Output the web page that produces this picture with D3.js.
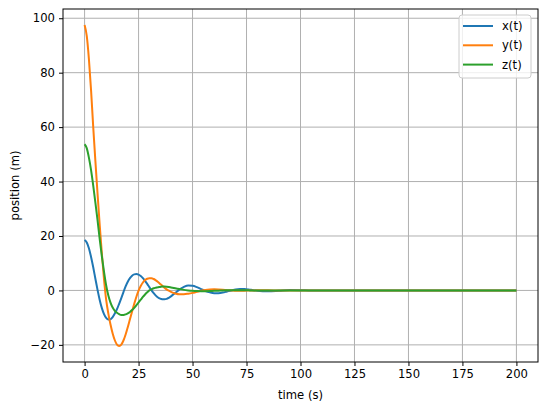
<!DOCTYPE html>
<html>
<head>
<meta charset="utf-8">
<script src="https://cdn.jsdelivr.net/npm/d3@7"></script>
<style>
  body { margin: 0; background: #fff; }
  text { font-family: "DejaVu Sans", sans-serif; fill: #000; }
</style>
</head>
<body>
<div id="chart"></div>
<script>
// time samples (s)
const times = [
  0, 1, 2, 3, 4, 5, 6, 7, 8, 9, 10, 11, 12, 13, 14, 15, 16, 17, 18, 19, 20,
  21, 22, 23, 24, 25, 26, 27, 28, 29, 30, 31, 32, 33, 34, 35, 36, 37, 38, 39, 40,
  42, 44, 46, 48, 50, 52, 54, 56, 58, 60, 62, 64, 66, 68, 70, 72, 74, 76, 78, 80,
  85, 90, 95, 100, 105, 110, 120, 130, 140, 150, 160, 170, 180, 190, 200
];

const xValues = [
  18.5, 17.6, 15.5, 12.3, 8.5, 4.3, 0.2, -3.5, -6.5, -8.7, -10.1, -10.7, -10.6, -9.8, -8.5, -6.9, -4.9, -2.8, -0.6, 1.5, 3.2,
  4.5, 5.4, 5.9, 6.0, 5.8, 5.3, 4.5, 3.5, 2.4, 1.2, 0.0, -1.0, -1.9, -2.6, -3.0, -3.2, -3.25, -3.1, -2.7, -2.2,
  -0.9, 0.4, 1.3, 1.8, 1.7, 1.2, 0.5, -0.2, -0.7, -1.0, -1.0, -0.8, -0.4, 0.0, 0.35, 0.5, 0.5, 0.35, 0.1, -0.1,
  -0.3, -0.1, 0.15, 0.1, -0.05, -0.05, 0, 0, 0, 0, 0, 0, 0, 0, 0
];

const yValues = [
  97.5, 93.5, 85, 73.5, 60, 47.5, 35.5, 24, 13.5, 4, -3.5, -8.5, -12.5, -15.8, -18.3, -19.9, -20.4, -19.9, -18.4, -16.2, -13.5,
  -10.6, -7.7, -4.9, -2.3, -0.1, 1.6, 2.9, 3.8, 4.3, 4.5, 4.5, 4.2, 3.7, 3.1, 2.4, 1.7, 1.0, 0.4, -0.1, -0.5,
  -1.1, -1.4, -1.4, -1.2, -0.9, -0.5, -0.1, 0.2, 0.35, 0.4, 0.35, 0.25, 0.1, 0.0, -0.1, -0.1, -0.1, -0.05, 0, 0.02,
  0.03, 0, 0, 0, 0, 0, 0, 0, 0, 0, 0, 0, 0, 0, 0
];

const zValues = [
  53.7, 52.3, 48.8, 44.2, 38.5, 32.3, 25.8, 18.8, 12.5, 6.8, 1.8, -1.9, -4.5, -6.3, -7.5, -8.2, -8.7, -9.0, -9.0, -8.8, -8.4,
  -7.9, -7.2, -6.4, -5.4, -4.4, -3.4, -2.4, -1.5, -0.7, 0.0, 0.4, 0.8, 1.0, 1.2, 1.3, 1.4, 1.4, 1.35, 1.25, 1.1,
  0.8, 0.5, 0.2, 0.0, -0.15, -0.25, -0.3, -0.3, -0.25, -0.15, -0.1, 0, 0.05, 0.08, 0.1, 0.08, 0.05, 0.02, 0, 0,
  0, 0, 0, 0, 0, 0, 0, 0, 0, 0, 0, 0, 0, 0, 0
];

const seriesNames = ["x(t)", "y(t)", "z(t)"];
const seriesColors = ["#1f77b4", "#ff7f0e", "#2ca02c"];
const xTicks = [0, 25, 50, 75, 100, 125, 150, 175, 200];
const yTicks = [-20, 0, 20, 40, 60, 80, 100];

const W = 550, H = 407;
const plot = {left: 63, right: 538, top: 9, bottom: 362};
const fontSize = 11.6;

const svg = d3.select("#chart").append("svg")
  .attr("width", W)
  .attr("height", H);

const x = d3.scaleLinear().domain([-10, 210]).range([plot.left, plot.right]);
const yMin = -20.4, yMax = 97.5, pad = (yMax - yMin) * 0.05;
const y = d3.scaleLinear().domain([yMin - pad, yMax + pad]).range([plot.bottom, plot.top]);

// grid
const grid = svg.append("g");
grid.selectAll(".gx").data(xTicks).enter().append("line")
  .attr("x1", d => x(d)).attr("x2", d => x(d))
  .attr("y1", plot.top).attr("y2", plot.bottom)
  .attr("stroke", "#b0b0b0").attr("stroke-width", 1);
grid.selectAll(".gy").data(yTicks).enter().append("line")
  .attr("x1", plot.left).attr("x2", plot.right)
  .attr("y1", d => y(d)).attr("y2", d => y(d))
  .attr("stroke", "#b0b0b0").attr("stroke-width", 1);

// lines
const data = [xValues, yValues, zValues];
svg.append("clipPath").attr("id", "clip")
  .append("rect")
  .attr("x", plot.left).attr("y", plot.top)
  .attr("width", plot.right - plot.left).attr("height", plot.bottom - plot.top);

const line = d3.line()
  .x((d, i) => x(times[i]))
  .y(d => y(d))
  .curve(d3.curveMonotoneX);

svg.append("g").attr("clip-path", "url(#clip)")
  .selectAll("path")
  .data(data)
  .enter()
  .append("path")
  .attr("d", d => line(d))
  .attr("fill", "none")
  .attr("stroke", (d, i) => seriesColors[i])
  .attr("stroke-width", 2)
  .attr("stroke-linejoin", "round")
  .attr("stroke-linecap", "butt");

// axes
const fmt = d => d < 0 ? "\u2212" + Math.abs(d) : String(d);
const xAxis = svg.append("g")
  .attr("transform", "translate(0," + plot.bottom + ")")
  .call(d3.axisBottom(x).tickValues(xTicks).tickFormat(fmt).tickSize(4).tickPadding(4));
const yAxis = svg.append("g")
  .attr("transform", "translate(" + plot.left + ",0)")
  .call(d3.axisLeft(y).tickValues(yTicks).tickFormat(fmt).tickSize(4).tickPadding(4));

[xAxis, yAxis].forEach(a => {
  a.select(".domain").remove();
  a.selectAll("text")
    .style("font-family", "'DejaVu Sans', sans-serif")
    .style("font-size", fontSize + "px")
    .attr("fill", "#000");
  a.selectAll("line").attr("stroke", "#000").attr("stroke-width", 1);
});

// frame
svg.append("rect")
  .attr("x", plot.left).attr("y", plot.top)
  .attr("width", plot.right - plot.left).attr("height", plot.bottom - plot.top)
  .attr("fill", "none").attr("stroke", "#000").attr("stroke-width", 1);

// axis labels
svg.append("text")
  .attr("x", (plot.left + plot.right) / 2)
  .attr("y", 399)
  .attr("text-anchor", "middle")
  .style("font-size", fontSize + "px")
  .text("time (s)");

svg.append("text")
  .attr("transform", "translate(19," + (plot.top + plot.bottom) / 2 + ") rotate(-90)")
  .attr("text-anchor", "middle")
  .style("font-size", fontSize + "px")
  .text("position (m)");

// legend
const legend = svg.append("g").attr("transform", "translate(459,15)");
legend.append("rect")
  .attr("x", 0).attr("y", 0)
  .attr("width", 72).attr("height", 63)
  .attr("rx", 3)
  .attr("fill", "#fff").attr("fill-opacity", 0.8)
  .attr("stroke", "#cccccc").attr("stroke-width", 1);

const rows = legend.selectAll(".row")
  .data(seriesNames)
  .enter()
  .append("g")
  .attr("transform", (d, i) => "translate(0," + (11 + 19.3 * i) + ")");
rows.append("line")
  .attr("x1", 4).attr("x2", 34)
  .attr("y1", 0).attr("y2", 0)
  .attr("stroke", (d, i) => seriesColors[i])
  .attr("stroke-width", 2);
rows.append("text")
  .attr("x", 43).attr("y", 0)
  .attr("dy", "0.35em")
  .style("font-size", fontSize + "px")
  .text(d => d);
</script>
</body>
</html>
